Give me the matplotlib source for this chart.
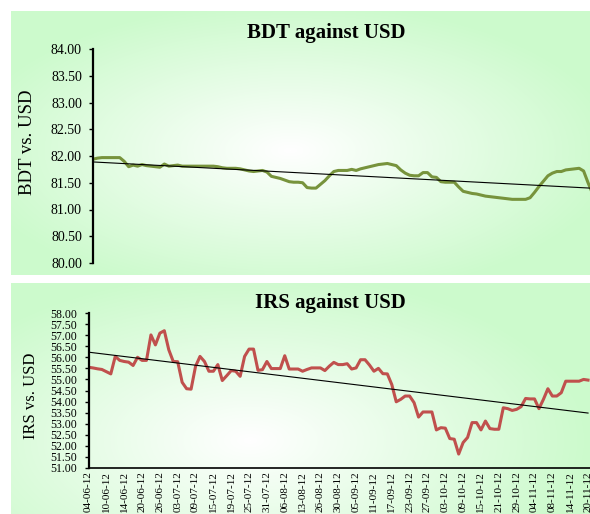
import numpy as np
import matplotlib.pyplot as plt

plt.rcParams['font.family'] = ['Liberation Serif', 'DejaVu Serif']

# ---------------- data ----------------
dates = ['04-06-12', '10-06-12', '14-06-12', '20-06-12', '26-06-12', '03-07-12',
         '09-07-12', '15-07-12', '19-07-12', '25-07-12', '31-07-12', '06-08-12',
         '13-08-12', '26-08-12', '30-08-12', '05-09-12', '11-09-12', '17-09-12',
         '23-09-12', '27-09-12', '03-10-12', '09-10-12', '15-10-12', '21-10-12',
         '29-10-12', '04-11-12', '08-11-12', '14-11-12', '20-11-12']
label_step = 4  # one label every 4 trading days

bdt = [81.94, 81.96, 81.97, 81.97, 81.97, 81.97, 81.97, 81.90, 81.80, 81.83,
       81.81, 81.84, 81.82, 81.81, 81.80, 81.79, 81.85, 81.81, 81.82, 81.83,
       81.81, 81.81, 81.81, 81.81, 81.81, 81.81, 81.81, 81.81, 81.80, 81.78,
       81.77, 81.77, 81.77, 81.76, 81.74, 81.72, 81.71, 81.72, 81.73, 81.70,
       81.62, 81.60, 81.58, 81.55, 81.52, 81.51, 81.51, 81.50, 81.41, 81.40,
       81.40, 81.47, 81.54, 81.63, 81.71, 81.73, 81.73, 81.73, 81.75, 81.73,
       81.76, 81.78, 81.80, 81.82, 81.84, 81.85, 81.86, 81.84, 81.82, 81.74,
       81.68, 81.64, 81.63, 81.63, 81.69, 81.69, 81.61, 81.60, 81.52, 81.51,
       81.51, 81.51, 81.42, 81.34, 81.32, 81.30, 81.29, 81.27, 81.25, 81.24,
       81.23, 81.22, 81.21, 81.20, 81.19, 81.19, 81.19, 81.19, 81.22, 81.32,
       81.43, 81.53, 81.63, 81.68, 81.71, 81.71, 81.74, 81.75, 81.76, 81.77,
       81.72, 81.50, 81.30]

irs = [55.55, 55.52, 55.48, 55.45, 55.35, 55.25, 56.04, 55.86, 55.81, 55.78,
       55.63, 56.00, 55.86, 55.86, 57.01, 56.56, 57.09, 57.20, 56.34, 55.81,
       55.80, 54.87, 54.58, 54.56, 55.59, 56.04, 55.81, 55.37, 55.37, 55.67,
       54.95, 55.17, 55.40, 55.37, 55.14, 56.04, 56.37, 56.37, 55.41, 55.44,
       55.81, 55.49, 55.49, 55.49, 56.07, 55.47, 55.47, 55.47, 55.37, 55.45,
       55.52, 55.52, 55.52, 55.40, 55.60, 55.77, 55.67, 55.67, 55.71, 55.47,
       55.52, 55.89, 55.89, 55.65, 55.37, 55.50, 55.26, 55.25, 54.77, 53.99,
       54.10, 54.25, 54.25, 53.95, 53.30, 53.53, 53.53, 53.53, 52.72, 52.82,
       52.80, 52.33, 52.30, 51.63, 52.15, 52.38, 53.05, 53.05, 52.72, 53.12,
       52.78, 52.75, 52.75, 53.72, 53.68, 53.60, 53.65, 53.77, 54.14, 54.12,
       54.12, 53.68, 54.10, 54.58, 54.25, 54.25, 54.40, 54.92, 54.92, 54.92,
       54.92, 55.00, 54.97]

# ---------------- layout helpers (pixels) ----------------
W, H = 590, 514
fig = plt.figure(figsize=(W / 100, H / 100), dpi=100)
fig.patch.set_facecolor('white')


def box(x0, y0, x1, y1):
    return [x0 / W, 1 - y1 / H, (x1 - x0) / W, (y1 - y0) / H]


def panel(x0, y0, x1, y1, cx, cy, rx, ry):
    ax = fig.add_axes(box(x0, y0, x1, y1))
    ax.set_axis_off()
    ax.set_zorder(0)
    X, Y = np.meshgrid(np.arange(x0, x1), np.arange(y0, y1))
    t = np.clip(np.sqrt(((X - cx) / rx) ** 2 + ((Y - cy) / ry) ** 2), 0, 1)
    edge = np.array([204, 250, 204]) / 255
    img = (1 - t[..., None]) + t[..., None] * edge
    ax.imshow(img, aspect='auto', interpolation='bilinear')


def chart(ax, x, y, color, ylo, yhi, fs):
    ax.set_facecolor('none')
    ax.set_zorder(1)
    ax.plot(x, y, color=color, lw=2.2, solid_joinstyle='round')
    k, b = np.polyfit(x, y, 1)
    ax.plot(x, k * x + b, color='black', lw=0.8)
    ax.set_xlim(0, 120)
    ax.set_ylim(ylo, yhi)
    ax.set_yticks(np.arange(ylo, yhi + 0.01, 0.5))
    ax.set_yticklabels(['%.2f' % v for v in np.arange(ylo, yhi + 0.01, 0.5)], fontsize=fs)
    for s in ['top', 'right']:
        ax.spines[s].set_visible(False)
    ax.spines['left'].set_linewidth(1.6)
    ax.tick_params(axis='y', length=3, width=1, pad=5)


px = 4.46  # pixels per trading day
n = len(bdt)
xs = np.arange(n)

panel(11, 11, 590, 275, 290, 150, 330, 150)
panel(11, 283, 590, 514, 250, 440, 340, 170)

# ---------------- BDT ----------------
ax1 = fig.add_axes(box(93, 49, 93 + 120 * px, 263))
chart(ax1, xs, np.array(bdt), '#77933C', 80, 84, 10)
ax1.spines['bottom'].set_visible(False)
ax1.set_xticks([])
fig.text(326 / W, 1 - 33 / H, 'BDT against USD', ha='center', va='center',
         fontsize=15, fontweight='bold')
fig.text(28 / W, 1 - 142 / H, 'BDT vs. USD', rotation=90, ha='center', va='center',
         fontsize=13.5)

# ---------------- IRS ----------------
ax2 = fig.add_axes(box(88.5, 313, 88.5 + 120 * px, 468))
chart(ax2, xs, np.array(irs), '#C0504D', 51, 58, 8.5)
ax2.spines['bottom'].set_linewidth(1.2)
ax2.set_xticks(np.arange(len(dates)) * label_step)
ax2.set_xticklabels(dates, rotation=90, fontsize=8)
ax2.tick_params(axis='x', length=0, pad=2.5)
fig.text(330 / W, 1 - 303 / H, 'IRS against USD', ha='center', va='center',
         fontsize=15, fontweight='bold')
fig.text(31 / W, 1 - 396 / H, 'IRS vs. USD', rotation=90, ha='center', va='center',
         fontsize=12)

fig.savefig('out.png', dpi=100)
